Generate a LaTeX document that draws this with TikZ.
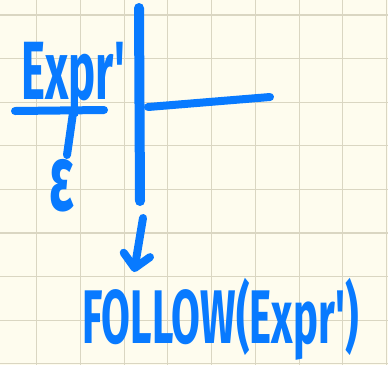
\documentclass[tikz,border=0pt]{standalone}
\usepackage{fontspec}
\usepackage{tikz}
\usetikzlibrary{arrows.meta,positioning,calc}
\newfontfamily\handfont[FakeStretch=0.55]{Fira Sans}
\definecolor{paper}{HTML}{FEFCEE}
\definecolor{gridline}{HTML}{DAD6C2}
\definecolor{ink}{HTML}{087AFF}

\begin{document}
\begin{tikzpicture}[x=0.75pt, y=-0.75pt,
  pen/.style={draw=ink, line width=6pt, line cap=round, line join=round},
  word/.style={text=ink, inner sep=0pt, font=\handfont\bfseries\fontsize{#1}{#1}\selectfont},
  word/.default=60, >={Straight Barb[length=10pt, width=20pt, round]}]
% paper and grid
\fill[paper] (0,0) rectangle (388,365);
\useasboundingbox (0,0) rectangle (388,365);
\foreach \gx in {0,...,8} \draw[gridline, line width=0.8pt] (36.7+43.75*\gx,0) -- ++(0,365);
\foreach \gy in {0,...,8} \draw[gridline, line width=0.8pt] (0,15+43.6*\gy) -- ++(388,0);
% texts
\node[word=62, anchor=base west] (expr) at (21,99) {Expr'};
\node[word=70, anchor=base] (eps) at (62,210) {ε};
\node[word=57, anchor=base west] (follow) at (82,343) {FOLLOW(Expr')};
% production Expr' -> eps
\coordinate (ulL) at (15,111);
\coordinate (ulR) at (104,110);
\coordinate (stemtop) at (73,113);
\coordinate (stembot) at (67,155);
\draw[pen] (ulL) -- (ulR);
\draw[pen] (stemtop) -- (stembot);
% divider and blank bar
\coordinate (divtop) at (139,8);
\coordinate (divbot) at (140,201);
\draw[pen, line width=7.5pt] (divtop) -- (divbot);
\coordinate (barL) at (148,107);
\coordinate (barR) at (270,97);
\draw[pen] (barL) -- (barR);
% arrow to FOLLOW
\coordinate (arrtop) at (143,218);
\coordinate (arrtip) at (134,272);
\draw[pen, ->] (arrtop) -- (arrtip);
\end{tikzpicture}
\end{document}
